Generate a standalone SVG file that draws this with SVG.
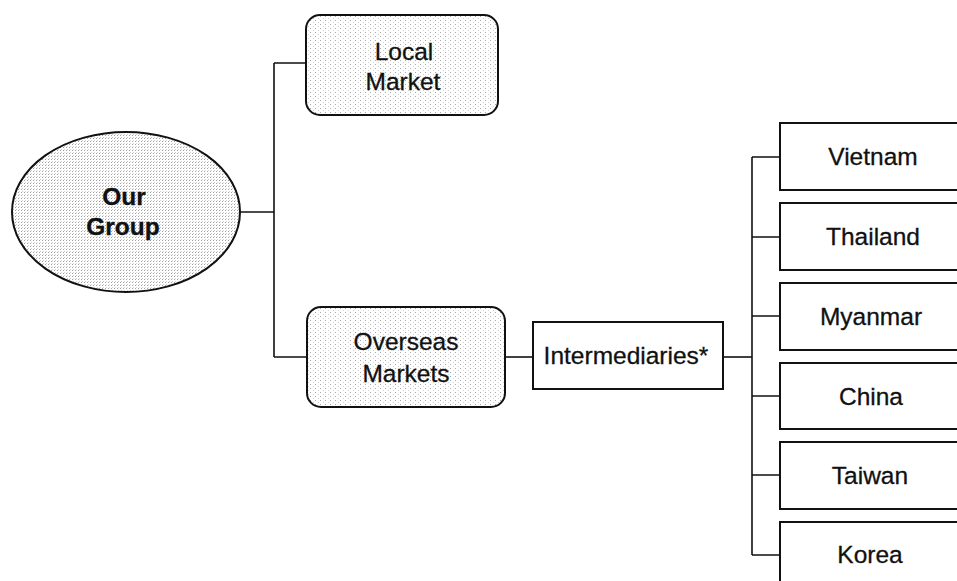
<svg xmlns="http://www.w3.org/2000/svg" width="957" height="581" viewBox="0 0 957 581">
  <defs>
    <!-- stippled grey fills -->
    <pattern id="stipple" width="5" height="4" patternUnits="userSpaceOnUse">
      <rect width="5" height="4" fill="#ffffff"/>
      <rect x="0" y="0" width="1" height="1" fill="#a8a8a8"/>
      <rect x="3" y="2" width="1" height="1" fill="#d0d0d0"/>
    </pattern>
    <pattern id="stippleDense" width="3" height="3" patternUnits="userSpaceOnUse">
      <rect width="3" height="3" fill="#ffffff"/>
      <rect x="0" y="0" width="1" height="1" fill="#a0a0a0"/>
      <rect x="1" y="2" width="1" height="1" fill="#d0d0d0"/>
    </pattern>
  </defs>
  <style>
    .box { fill: #ffffff; stroke: #111; stroke-width: 2; }
    .shaded { fill: url(#stipple); stroke: #111; stroke-width: 2; }
    .label { font-family: "Liberation Sans", Arial, sans-serif; font-size: 24.5px; fill: #111; text-anchor: middle; stroke: #111; stroke-width: 0.3; }
    .bold { font-weight: bold; }
    .wire { fill: none; stroke: #111; stroke-width: 1.6; }
  </style>

  <rect width="957" height="581" fill="#ffffff"/>

  <!-- connectors -->
  <g id="connectors">
    <path class="wire" d="M240 212 H274 M274 63 V357 M274 63 H306 M274 357 H307"/>
    <path class="wire" d="M505 357 H533"/>
    <path class="wire" d="M723 357 H752"/>
    <path class="wire" d="M752 157 V555 M752 157 H780 M752 237 H780 M752 316 H780 M752 396 H780 M752 475 H780 M752 555 H780"/>
  </g>

  <g id="our-group">
    <ellipse cx="126" cy="212" rx="114" ry="80" fill="url(#stippleDense)" stroke="#111" stroke-width="2"/>
    <text class="label bold" x="124" y="205">Our</text>
    <text class="label bold" x="123" y="235">Group</text>
  </g>

  <g id="local-market">
    <rect class="shaded" x="306" y="15" width="192" height="100" rx="14"/>
    <text class="label" x="404" y="60">Local</text>
    <text class="label" x="403" y="90">Market</text>
  </g>

  <g id="overseas-markets">
    <rect class="shaded" x="307" y="307" width="198" height="100" rx="14"/>
    <text class="label" x="406" y="350">Overseas</text>
    <text class="label" x="406" y="382">Markets</text>
  </g>

  <g id="intermediaries">
    <rect class="box" x="533" y="322" width="190" height="67"/>
    <text class="label" x="626" y="364">Intermediaries*</text>
  </g>

  <g id="vietnam">
    <rect class="box" x="780" y="123" width="190" height="67"/>
    <text class="label" x="873" y="165">Vietnam</text>
  </g>
  <g id="thailand">
    <rect class="box" x="780" y="203" width="190" height="67"/>
    <text class="label" x="873" y="245">Thailand</text>
  </g>
  <g id="myanmar">
    <rect class="box" x="780" y="283" width="190" height="67"/>
    <text class="label" x="871" y="325">Myanmar</text>
  </g>
  <g id="china">
    <rect class="box" x="780" y="363" width="190" height="66"/>
    <text class="label" x="871" y="405">China</text>
  </g>
  <g id="taiwan">
    <rect class="box" x="780" y="442" width="190" height="67"/>
    <text class="label" x="870" y="484">Taiwan</text>
  </g>
  <g id="korea">
    <rect class="box" x="780" y="522" width="190" height="80"/>
    <text class="label" x="870" y="563">Korea</text>
  </g>
</svg>
